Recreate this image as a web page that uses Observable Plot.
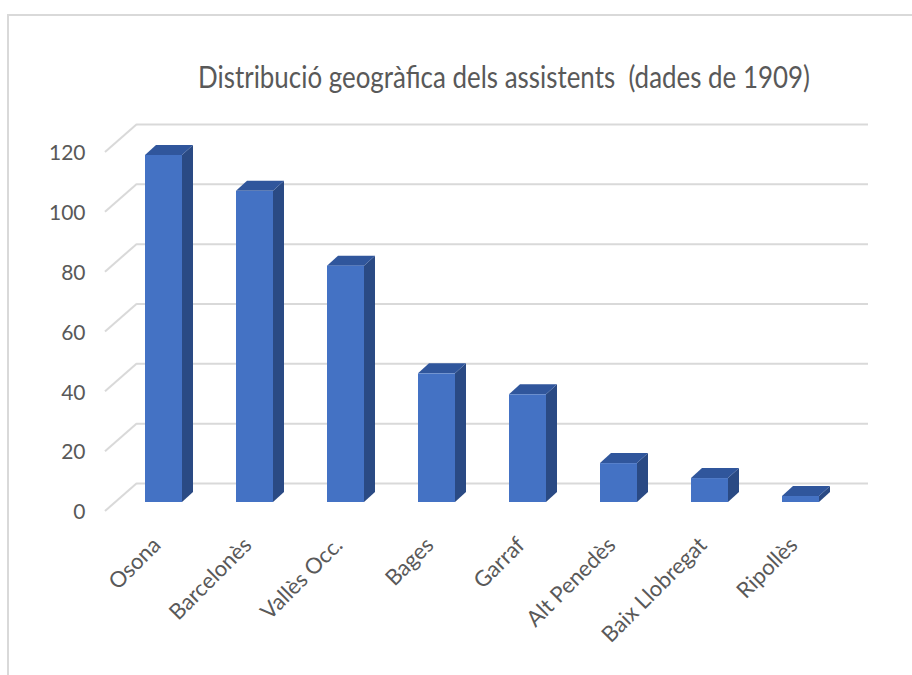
<!DOCTYPE html>
<html>
<head>
<meta charset="utf-8">
<script src="https://cdn.jsdelivr.net/npm/d3@7"></script>
<script src="https://cdn.jsdelivr.net/npm/@observablehq/plot@0.6"></script>
<style>
  html, body { margin: 0; padding: 0; background: #fff; }
  #wrap { position: relative; width: 912px; height: 675px; overflow: hidden; }
  #frame { position: absolute; left: 7px; top: 14px; width: 920px; height: 700px;
           border-top: 2px solid #d9d9d9; border-left: 2px solid #d9d9d9; box-sizing: border-box; }
  #title { position: absolute; left: 504px; top: 58px; transform-origin: 0 0;
           font-family: Lato, "Open Sans", sans-serif; font-size: 31px; font-weight: 400;
           color: #595959; white-space: pre; line-height: 1.2; }
  #chart { position: absolute; left: 0; top: 0; }
</style>
</head>
<body>
<div id="wrap">
  <div id="frame"></div>
  <div id="chart"></div>
  <div id="title"></div>
</div>
<script>
const categories = ["Osona", "Barcelonès", "Vallès Occ.", "Bages", "Garraf", "Alt Penedès", "Baix Llobregat", "Ripollès"];
const values = [116, 104, 79, 43, 36, 13, 8, 2];
const yTicks = [0, 20, 40, 60, 80, 100, 120];
const titleText = "Distribució geogràfica dels assistents  (dades de 1909)";

const data = categories.map((name, i) => ({name, value: values[i]}));

const FONT = 'Lato, "Open Sans", sans-serif';
const SVGNS = "http://www.w3.org/2000/svg";
// depth offsets (px) for the 3-D look
const backDX = 21, backDY = -19;   // bar plane -> back wall
const frontDX = -11, frontDY = 9;  // bar plane -> front edge of side wall
const barDX = 11, barDY = -10;     // bar depth

function poly(points, fill) {
  const p = document.createElementNS(SVGNS, "polygon");
  p.setAttribute("points", points.map(d => d.join(",")).join(" "));
  p.setAttribute("fill", fill);
  return p;
}

const chart = Plot.plot({
  width: 912,
  height: 675,
  marginLeft: 116,
  marginRight: 65,
  marginTop: 143,
  marginBottom: 173,
  style: {background: "transparent", fontFamily: FONT},
  x: {domain: categories, paddingInner: 0.595, paddingOuter: 0.2976, axis: null},
  y: {domain: [0, 120], axis: null},
  marks: [
    // back wall gridlines
    Plot.ruleY(yTicks, {dx: backDX, dy: backDY, stroke: "#d9d9d9", strokeWidth: 2}),
    // side wall diagonals
    Plot.ruleY(yTicks, {
      stroke: "#d9d9d9", strokeWidth: 2,
      render(index, scales, vals, dims) {
        const g = document.createElementNS(SVGNS, "g");
        const x0 = dims.marginLeft;
        for (const i of index) {
          const y = vals.y[i];
          const l = document.createElementNS(SVGNS, "line");
          l.setAttribute("x1", x0 + frontDX);
          l.setAttribute("y1", y + frontDY);
          l.setAttribute("x2", x0 + backDX);
          l.setAttribute("y2", y + backDY);
          l.setAttribute("stroke", "#d9d9d9");
          l.setAttribute("stroke-width", 2);
          g.appendChild(l);
        }
        return g;
      }
    }),
    // 3-D bars
    Plot.barY(data, {
      x: "name", y: "value", fill: "#4472C4",
      render(index, scales, vals, dims, ctx, next) {
        const g = next(index, scales, vals, dims, ctx);
        for (const r of Array.from(g.querySelectorAll("rect"))) {
          const x = +r.getAttribute("x"), y = +r.getAttribute("y");
          const w = +r.getAttribute("width"), h = +r.getAttribute("height");
          const side = poly([[x + w, y], [x + w + barDX, y + barDY], [x + w + barDX, y + h + barDY], [x + w, y + h]], "#2A4A84");
          const top = poly([[x, y], [x + barDX, y + barDY], [x + w + barDX, y + barDY], [x + w, y]], "#30569C");
          g.insertBefore(side, r);
          g.insertBefore(top, r);
        }
        return g;
      }
    }),
    // y tick labels
    Plot.text(yTicks, {
      y: d => d, text: d => String(d), frameAnchor: "left", textAnchor: "end",
      dx: -31, dy: 10, fontSize: 21, fill: "#595959"
    }),
    // x labels
    Plot.text(categories, {
      x: d => d, text: d => d, frameAnchor: "bottom", textAnchor: "end", rotate: -45,
      dx: -2, dy: 44, fontSize: 22, fill: "#595959"
    })
  ]
});

document.getElementById("chart").appendChild(chart);

// title: centred at x = 504, squeezed to the reference's narrow face
const t = document.getElementById("title");
t.textContent = titleText;
const w = t.getBoundingClientRect().width;
const s = Math.min(1, 612 / w);
t.style.transform = `scaleX(${s}) translateX(${-w / 2}px)`;
</script>
</body>
</html>
